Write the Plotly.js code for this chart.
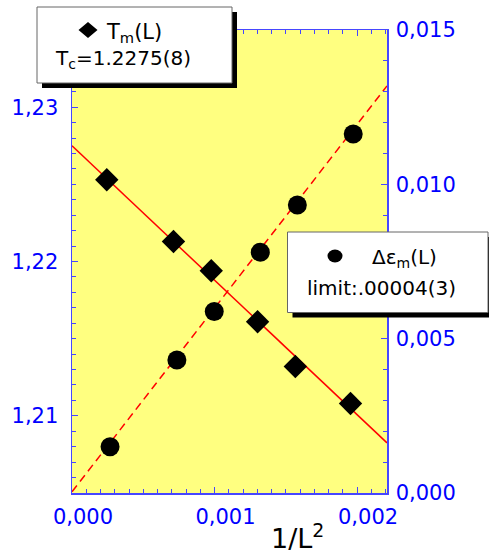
<!DOCTYPE html>
<html>
<head>
<meta charset="utf-8">
<script src="https://cdn.plot.ly/plotly-3.0.1.min.js"></script>
<style>html,body{margin:0;padding:0;background:#fff;}#chart{width:489px;height:554px;}</style>
</head>
<body>
<div id="chart"></div>
<script>
// ---- data ----
const tmX = [0.000244, 0.000712, 0.000977, 0.001302, 0.001567, 0.001954];
const tmY = [1.2253, 1.2213, 1.2194, 1.2161, 1.2132, 1.2108];
const deX = [0.000267, 0.000736, 0.000998, 0.001321, 0.001581, 0.001973];
const deY = [0.00150, 0.00431, 0.00588, 0.00780, 0.00933, 0.01163];
// fit lines: [intercept, slope]
const tmFit = [1.2275, -8.71];
const deFit = [0.00004, 5.95];
const fitX = [0, 0.00221];
// tick labels
const xTickVals = [0, 0.001, 0.002];
const xTickText = ['0,000', '0,001', '0,002'];
const yTickVals = [1.21, 1.22, 1.23];
const yTickText = ['1,21', '1,22', '1,23'];
const y2TickVals = [0, 0.005, 0.010, 0.015];
const y2TickText = ['0,000', '0,005', '0,010', '0,015'];
// legend texts
const leg1 = ['T<sub>m</sub>(L)', 'T<sub>c</sub>=1.2275(8)'];
const leg2 = ['Δε<sub>m</sub>(L)', 'limit:.00004(3)'];
const xTitle = '1/L<sup>2</sup>';

// ---- layout helpers ----
const W = 489, H = 554, ML = 72, MR = 102, MT = 30, MB = 61;
const PW = W - ML - MR, PH = H - MT - MB;
const px = x => (x - ML) / PW;
const py = y => (H - MB - y) / PH;

const FONT = 'DejaVu Sans';
const BLUE = '#0000ff';
const AXBLUE = '#4646ff';

const traces = [
  { x: fitX, y: fitX.map(v => tmFit[0] + tmFit[1] * v), mode: 'lines', yaxis: 'y',
    line: { color: '#ff0000', width: 1.5 }, hoverinfo: 'skip', showlegend: false },
  { x: fitX, y: fitX.map(v => deFit[0] + deFit[1] * v), mode: 'lines', yaxis: 'y2',
    line: { color: '#ff0000', width: 1.5, dash: '8px,5px' }, hoverinfo: 'skip', showlegend: false },
  { x: tmX, y: tmY, mode: 'markers', yaxis: 'y', name: 'Tm',
    marker: { symbol: 'diamond', size: 18, color: '#000' }, showlegend: false },
  { x: deX, y: deY, mode: 'markers', yaxis: 'y2', name: 'de',
    marker: { symbol: 'circle', size: 19, color: '#000' }, showlegend: false }
];

const axCommon = {
  showgrid: false, zeroline: false, showline: true, linecolor: AXBLUE, linewidth: 1.5,
  ticks: 'inside', ticklen: 6, tickwidth: 1, tickcolor: AXBLUE,
  tickfont: { family: FONT, size: 21, color: BLUE }
};

const shapes = [];
function box(x0, y0, x1, y1) {
  shapes.push({ type: 'rect', xref: 'paper', yref: 'paper', x0: px(x0 + 5), x1: px(x1 + 5), y0: py(y0 + 5), y1: py(y1 + 5),
    fillcolor: '#000', line: { width: 0 } });
  shapes.push({ type: 'rect', xref: 'paper', yref: 'paper', x0: px(x0), x1: px(x1), y0: py(y0), y1: py(y1),
    fillcolor: '#fff', line: { color: '#666', width: 1 } });
}
box(37, 7, 232, 83);
box(287.5, 232, 488, 312.5);
shapes.push({ type: 'path', xref: 'paper', yref: 'paper', xsizemode: 'pixel', ysizemode: 'pixel',
  xanchor: px(88), yanchor: py(30), path: 'M -9.5 0 L 0 8 L 9.5 0 L 0 -8 Z', fillcolor: '#000', line: { width: 0 } });
shapes.push({ type: 'circle', xref: 'paper', yref: 'paper', xsizemode: 'pixel', ysizemode: 'pixel',
  xanchor: px(335), yanchor: py(256), x0: -7.5, x1: 7.5, y0: -6.5, y1: 6.5, fillcolor: '#000', line: { width: 0 } });

function ann(text, x, y, size, color) {
  return { text: text, xref: 'paper', yref: 'paper', x: px(x), y: py(y), xanchor: 'left', yanchor: 'middle',
    showarrow: false, borderpad: 0, font: { family: FONT, size: size, color: color || '#000' } };
}
const annotations = [
  ann(leg1[0], 105, 33, 21),
  ann(leg1[1], 54, 59, 20),
  ann(leg2[0], 371, 258, 20),
  ann(leg2[1], 306, 288, 20),
  ann(xTitle, 270, 536, 27)
];

const layout = {
  width: W, height: H,
  margin: { l: ML, r: MR, t: MT, b: MB, pad: 0 },
  paper_bgcolor: '#fff', plot_bgcolor: '#ffff80',
  showlegend: false,
  xaxis: Object.assign({}, axCommon, {
    range: [0, 0.00221], tickvals: xTickVals, ticktext: xTickText, mirror: 'ticks',
    ticklabelstandoff: 4, ticklabelshift: 11,
    minor: { dtick: 0.0001, tick0: 0, ticks: 'inside', ticklen: 4, tickcolor: AXBLUE }
  }),
  yaxis: Object.assign({}, axCommon, {
    range: [1.205, 1.235], tickvals: yTickVals, ticktext: yTickText,
    ticklabelstandoff: 8,
    minor: { dtick: 0.001, tick0: 1.2, ticks: 'inside', ticklen: 4, tickcolor: AXBLUE }
  }),
  yaxis2: Object.assign({}, axCommon, {
    overlaying: 'y', side: 'right', range: [0, 0.015], tickvals: y2TickVals, ticktext: y2TickText,
    ticklabelstandoff: 3,
    minor: { dtick: 0.001, tick0: 0, ticks: 'inside', ticklen: 4, tickcolor: AXBLUE }
  }),
  shapes: shapes,
  annotations: annotations
};

Plotly.newPlot('chart', traces, layout, { displayModeBar: false, staticPlot: true });
</script>
</body>
</html>
